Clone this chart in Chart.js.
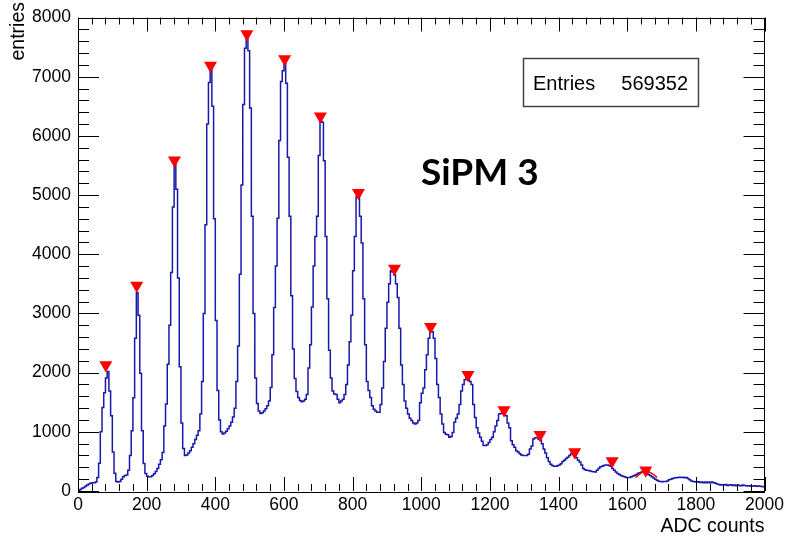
<!DOCTYPE html>
<html><head><meta charset="utf-8">
<script src="https://cdn.jsdelivr.net/npm/chart.js@4.4.0/dist/chart.umd.min.js"></script>
<style>html,body{margin:0;padding:0;background:#fff}#wrap{position:relative;width:788px;height:536px}</style>
</head><body><div id="wrap"><canvas id="c" width="788" height="536"></canvas></div>
<script>
// ---- data ----
const binWidth = 5;          // ADC counts per bin
const xMin = 0, xMax = 2000;
const yMin = 0, yMax = 8000;
// bin contents, 20 bins (100 ADC counts) per row
const counts = [
  10,25,45,60,80,100,120,130,140,140,150,230,470,1000,1410,1660,1910,2020,1690,1270,
  660,300,160,150,160,200,240,260,270,350,600,1020,1575,2580,3350,2970,1990,1020,465,295,
  250,240,240,260,290,330,380,450,530,650,1100,1470,2140,2800,3690,4800,5550,5100,3600,2100,
  1150,720,600,610,640,680,740,800,870,940,1020,1300,1850,3000,4500,6200,6900,7120,6500,4600,
  2880,1700,1200,1000,965,980,1010,1050,1100,1160,1250,1400,1850,2450,3660,5170,6530,7480,7680,7440,
  6470,4640,3000,1910,1480,1350,1310,1320,1350,1390,1440,1520,1750,2300,3100,3800,4610,5920,6920,7100,
  7220,6890,5640,4640,3300,2400,1900,1680,1580,1530,1510,1520,1550,1630,2080,2470,3110,3800,4300,4640,
  5670,6250,6230,5580,4300,3250,2380,1910,1690,1640,1630,1550,1490,1520,1550,1630,1800,2130,2520,2970,
  3720,4300,4970,4990,4640,4190,3250,2470,1850,1700,1580,1440,1380,1350,1330,1330,1460,1740,2190,2750,
  3190,3500,3720,3700,3650,3500,3270,2750,2130,1800,1520,1400,1300,1230,1190,1150,1130,1150,1190,1490,
  1650,1740,2050,2300,2580,2690,2690,2580,2240,1800,1580,1300,1130,990,960,950,910,920,990,1160,
  1230,1300,1460,1690,1800,1880,1910,1910,1850,1800,1460,1240,1070,980,910,840,770,770,780,820,
  870,910,1000,1100,1190,1300,1310,1330,1330,1270,1150,1070,850,780,740,680,660,630,610,600,
  600,600,620,710,760,880,900,900,880,860,800,710,640,560,500,450,430,420,420,425,
  440,460,500,520,550,570,600,630,630,600,560,520,490,440,380,360,350,345,340,330,
  325,320,350,380,410,420,430,440,440,430,420,380,350,320,295,280,260,250,240,230,
  228,228,240,255,268,280,300,310,320,320,310,300,280,260,240,220,200,180,165,160,
  155,160,160,170,190,200,210,220,225,230,234,230,234,225,230,210,190,170,160,156,
  150,155,145,150,140,150,140,150,140,150,140,130,120,110,100,105,100,110,95,100,
  105,95,100,90,100,95,90,100,95,90,85,90,80,85,90,80,85,80,75,70
];
// peaks found (red markers)
const peakX = [81,171,281,386,492,602,706,817,922,1027,1136,1241,1346,1447,1556,1654];
const peakY = [2130,3470,5590,7190,7720,7300,6330,5040,3760,2775,1965,1370,950,660,505,350];
// small red fitted curve around the last peak
const fitX = [1624,1635,1645,1655,1665,1676,1687];
const fitY = [228,280,320,345,320,280,230];
const xTickValues = [0,200,400,600,800,1000,1200,1400,1600,1800,2000];
const yTickValues = [0,1000,2000,3000,4000,5000,6000,7000,8000];
const xTitle = 'ADC counts';
const yTitle = 'entries';
const statLabel = 'Entries';
const statValue = '569352';
const plotLabel = 'SiPM 3';

// ---- build chart ----
const histPoints = counts.map((v, i) => ({x: xMin + i * binWidth, y: v}));
histPoints.push({x: xMax, y: counts[counts.length - 1]});
const peakPoints = peakX.map((x, i) => ({x: x, y: peakY[i]}));
const fitPoints = fitX.map((x, i) => ({x: x, y: fitY[i]}));

const FONT = "'Liberation Sans', Arial, Helvetica, sans-serif";

const rootFrame = {
  id: 'rootFrame',
  afterDraw(chart) {
    const ctx = chart.ctx, a = chart.chartArea;
    const xs = chart.scales.x, ys = chart.scales.y;
    ctx.save();
    ctx.strokeStyle = '#000';
    ctx.lineWidth = 1;
    // frame
    ctx.strokeRect(Math.round(a.left) + 0.5, Math.round(a.top) + 0.5,
                   Math.round(a.right - a.left) - 1, Math.round(a.bottom - a.top));
    ctx.beginPath();
    // x ticks (bottom & top), major every 200, minor every 40
    for (let v = xMin; v <= xMax; v += 40) {
      const px = Math.round(xs.getPixelForValue(v)) + 0.5;
      const len = (v % 200 === 0) ? 14 : 7;
      ctx.moveTo(px, a.bottom); ctx.lineTo(px, a.bottom - len);
      ctx.moveTo(px, a.top); ctx.lineTo(px, a.top + len);
    }
    // y ticks (left & right), major every 1000, minor every 200
    for (let v = yMin; v <= yMax; v += 200) {
      const py = Math.round(ys.getPixelForValue(v)) + 0.5;
      const len = (v % 1000 === 0) ? 21 : 11;
      ctx.moveTo(a.left, py); ctx.lineTo(a.left + len, py);
      ctx.moveTo(a.right, py); ctx.lineTo(a.right - len, py);
    }
    ctx.stroke();

    // axis titles
    ctx.fillStyle = '#000';
    ctx.font = '19.5px ' + FONT;
    ctx.textAlign = 'right';
    ctx.textBaseline = 'alphabetic';
    ctx.fillText(xTitle, a.right, 532);
    ctx.save();
    ctx.translate(24, 2);
    ctx.rotate(-Math.PI / 2);
    ctx.textAlign = 'right';
    ctx.fillText(yTitle, 0, 0);
    ctx.restore();

    // stats box
    ctx.fillStyle = '#fff';
    ctx.fillRect(523, 58, 175, 48);
    ctx.strokeStyle = '#444';
    ctx.lineWidth = 1.5;
    ctx.strokeRect(523.5, 58.5, 175, 48);
    ctx.fillStyle = '#000';
    ctx.font = '20px ' + FONT;
    ctx.textAlign = 'left';
    ctx.fillText(statLabel, 533, 90);
    ctx.textAlign = 'right';
    ctx.fillText(statValue, 688, 90);

    // label
    ctx.font = "bold 37px Lato, 'Open Sans', sans-serif";
    ctx.textAlign = 'left';
    ctx.fillText(plotLabel, 421, 185);
    ctx.restore();
  }
};

new Chart(document.getElementById('c'), {
  data: {
    datasets: [
      {
        type: 'line', label: 'hist', data: histPoints,
        stepped: 'before', borderColor: 'rgb(24,24,170)', borderWidth: 1.5,
        pointRadius: 0, fill: false, order: 3
      },
      {
        type: 'line', label: 'fit', data: fitPoints,
        borderColor: '#ff0000', borderWidth: 1.5, tension: 0.4,
        pointRadius: 0, fill: false, order: 2
      },
      {
        type: 'scatter', label: 'peaks', data: peakPoints,
        pointStyle: 'triangle', rotation: 180, pointRadius: 7.5,
        backgroundColor: '#ff0000', borderColor: '#ff0000', borderWidth: 0, order: 1
      }
    ]
  },
  options: {
    responsive: false, animation: false, devicePixelRatio: 1,
    layout: {padding: {left: 0, top: 12, right: 20, bottom: 0}},
    plugins: {legend: {display: false}, tooltip: {enabled: false}},
    scales: {
      x: {
        type: 'linear', min: xMin, max: xMax,
        afterFit(s) { s.height = 45; },
        afterBuildTicks(s) { s.ticks = xTickValues.map(v => ({value: v})); },
        ticks: {font: {family: FONT, size: 17.5}, color: '#000', padding: 4, maxRotation: 0, autoSkip: false,
                callback: v => String(v)},
        grid: {display: false, drawTicks: false},
        border: {display: false}
      },
      y: {
        type: 'linear', min: yMin, max: yMax,
        afterFit(s) { s.width = 78; },
        afterBuildTicks(s) { s.ticks = yTickValues.map(v => ({value: v})); },
        ticks: {font: {family: FONT, size: 17.5}, color: '#000', padding: 7, autoSkip: false,
                callback: v => String(v)},
        grid: {display: false, drawTicks: false},
        border: {display: false}
      }
    }
  },
  plugins: [rootFrame]
});
</script>
</body></html>
